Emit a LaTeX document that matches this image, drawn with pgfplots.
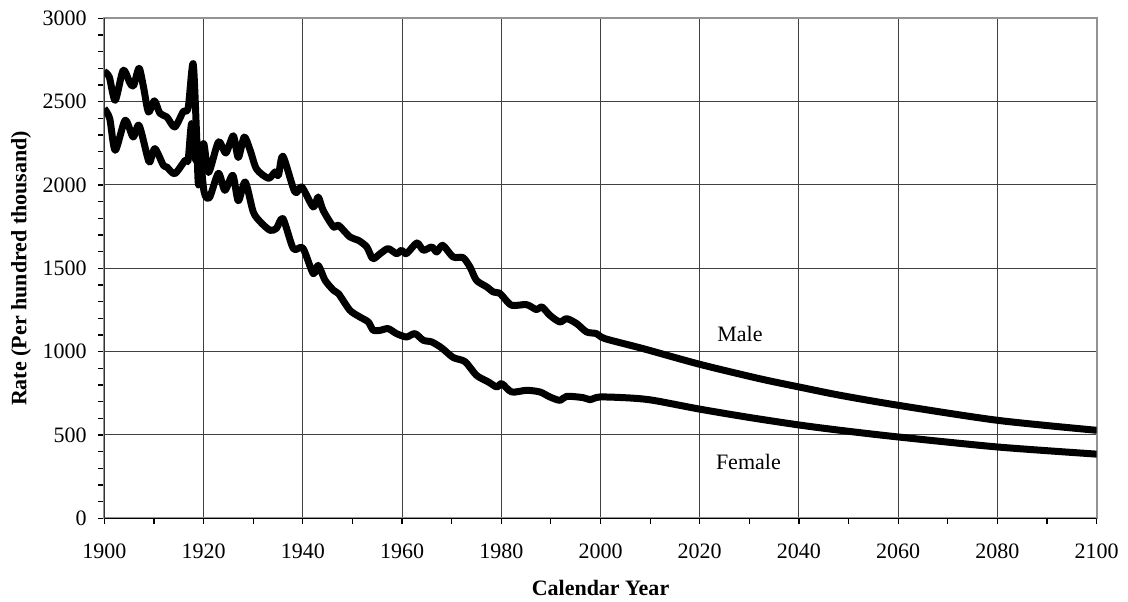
\documentclass[border=0pt]{standalone}
\usepackage{fontspec}
\setmainfont{Liberation Serif}
\usepackage{pgfplots}
\pgfplotsset{compat=1.18}
\begin{document}
\fontsize{11}{13.2}\selectfont
\begin{tikzpicture}
\useasboundingbox (0pt,0pt) rectangle (564pt,300.5pt);
\begin{axis}[
 at={(52.15pt,41.35pt)}, anchor=south west,
 width=496.2pt, height=250pt, scale only axis,
 xmin=1900, xmax=2100, ymin=0, ymax=3000,
 xtick={1900,1920,...,2100}, ytick={0,500,...,3000},
 minor x tick num=1, minor y tick num=4,
 tick pos=left,
 tick align=outside, major tick length=3pt, minor tick length=3pt,
 xmajorgrids, ymajorgrids,
 grid style={black!75, line width=0.5pt},
 axis line style={gray!85, line width=1pt},
 tick style={black, line width=0.6pt},
 xticklabel={\rmfamily\pgfmathprintnumber[1000 sep={},assume math mode=true]{\tick}},
 yticklabel={\rmfamily\pgfmathprintnumber[1000 sep={},assume math mode=true]{\tick}},
 xticklabel style={yshift=-6pt},
 yticklabel style={xshift=-2pt},
 xlabel={\textbf{Calendar Year}},
 ylabel={\textbf{Rate (Per hundred thousand)}},
 xlabel style={at={(axis description cs:0.5,-0.140)}, anchor=center},
 ylabel style={at={(axis description cs:-0.0838,0.5)}, anchor=center},
]
\addplot[black, no markers, line width=3.5pt, line join=round, smooth, tension=0.45] coordinates {
(1900,2680) (1901,2648) (1902.2,2508) (1903.8,2688) (1905.2,2610) (1905.9,2595)
(1907,2700) (1907.9,2588) (1908.9,2438) (1910.1,2505) (1911.2,2430) (1912.6,2408)
(1914.2,2348) (1915.9,2440) (1916.9,2462) (1917.9,2728) (1918.6,2300) (1919,2000)
(1920,2248) (1921,2075) (1923,2258) (1924.5,2192) (1926,2295) (1927,2165)
(1928.2,2288) (1929.4,2208) (1930.7,2095) (1933.1,2040) (1934.4,2078) (1935.1,2058)
(1936,2172) (1938.4,1958) (1939.8,1988) (1942.1,1868) (1943.1,1928) (1944.1,1848)
(1946.2,1748) (1947.2,1758) (1949.5,1688) (1951.2,1668) (1952.9,1628) (1954.1,1558)
(1955.6,1588) (1957.2,1618) (1958.9,1588) (1959.9,1608) (1960.9,1588) (1963,1652)
(1964.3,1608) (1966,1628) (1967,1598) (1968.2,1638) (1970.3,1568) (1972.3,1564)
(1973.7,1508) (1975,1428) (1977.1,1388) (1978.4,1358) (1979.6,1352) (1980.4,1328)
(1982.1,1278) (1985.1,1282) (1987.1,1252) (1988.2,1268) (1989.8,1218) (1991.8,1178)
(1993.2,1198) (1995.2,1168) (1997.2,1118) (1999.2,1108) (2000.9,1078) (2008.6,1018)
(2020,924) (2032,838) (2040,788) (2048.3,738) (2060,678) (2080,588) (2100,528)
};
\addplot[black, no markers, line width=3.5pt, line join=round, smooth, tension=0.45] coordinates {
(1900,2458) (1901.1,2398) (1902.2,2208) (1904.2,2388) (1905.8,2288) (1907,2358)
(1908.7,2168) (1909.2,2138) (1910.2,2218) (1911.9,2118) (1912.6,2108) (1914.2,2068)
(1916.3,2148) (1916.9,2150) (1917.6,2368) (1918.4,2150) (1919.1,2240) (1920.1,1960)
(1921.2,1925) (1923,2070) (1924.3,1968) (1925.9,2058) (1927,1905) (1928.4,2018)
(1930,1840) (1931.4,1780) (1933.4,1728) (1934.7,1740) (1936,1798) (1938.1,1618)
(1940,1622) (1942.1,1468) (1943.1,1518) (1944.5,1428) (1946.2,1368) (1947.2,1348)
(1949.5,1248) (1951.5,1208) (1953.2,1178) (1954.2,1128) (1955.6,1128) (1957.2,1138)
(1958.9,1108) (1960.9,1088) (1962.6,1108) (1964.3,1068) (1966,1058) (1968,1022)
(1970.3,965) (1972.7,940) (1975,858) (1977.4,818) (1979.1,788) (1980.1,808)
(1982.1,758) (1985.1,768) (1987.8,758) (1989.8,728) (1991.8,708) (1993.2,732)
(1996.5,724) (1997.9,712) (1999.9,728) (2005.9,722) (2010.6,708) (2020,655)
(2030,605) (2040,560) (2048.3,528) (2060,488) (2080,428) (2100,385)
};
\node at (axis cs:2028.1,1108) {Male};
\node at (axis cs:2029.8,338) {Female};
\draw[black, line width=0.75pt] (rel axis cs:0,1) -- (rel axis cs:0,0) -- (rel axis cs:1,0);
\end{axis}
\end{tikzpicture}
\end{document}
